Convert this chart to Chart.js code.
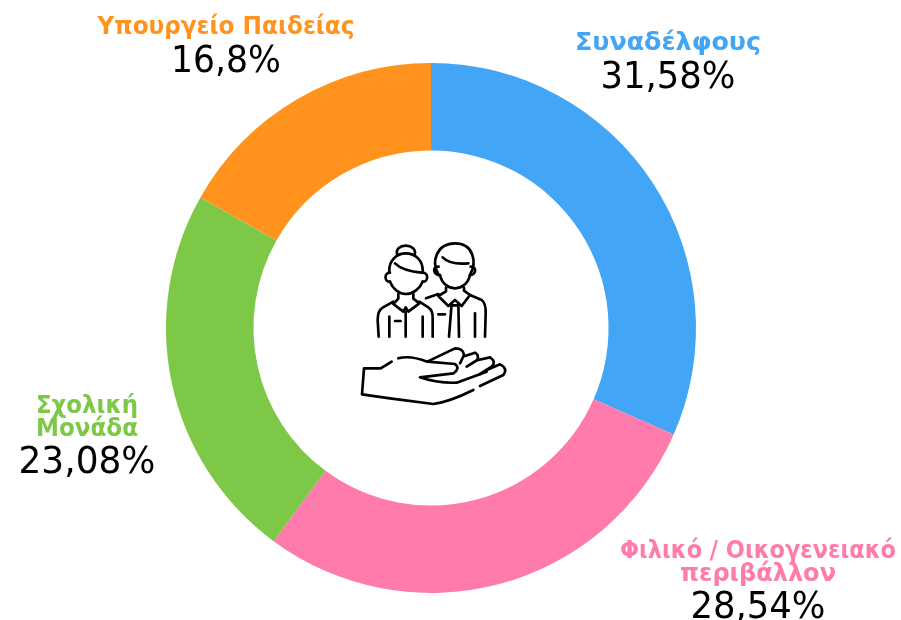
<!DOCTYPE html>
<html lang="el"><head><meta charset="utf-8">
<style>html,body{margin:0;padding:0;background:#fff}canvas{display:block}#w{width:901px;height:620px}</style>
<script src="https://cdn.jsdelivr.net/npm/chart.js@4"></script></head>
<body><div id="w"><canvas id="c" width="901" height="620"></canvas></div>
<script>
const categories = ["Συναδέλφους", "Φιλικό / Οικογενειακό περιβάλλον", "Σχολική Μονάδα", "Υπουργείο Παιδείας"];
const values = [31.58, 28.54, 23.08, 16.8];
const valueLabels = ["31,58%", "28,54%", "23,08%", "16,8%"];
const colors = ["#42A5F5", "#FF7BAC", "#7DC846", "#FF931E"];
const labelLines = [["Συναδέλφους"], ["Φιλικό / Οικογενειακό", "περιβάλλον"], ["Σχολική", "Μονάδα"], ["Υπουργείο Παιδείας"]];
const labelCenters = [[668, 50], [758, 558], [87, 413], [226, 34]];
const valueBaselines = [88, 618, 473, 72];
const labelWidths = [[186], [276, 156], [102, 102], [257]];
const valueWidths = [135, 135, 137, 110];

function fitted(ctx, text, x, y, width, font) {
  ctx.font = font;
  const w = ctx.measureText(text).width;
  ctx.save();
  ctx.translate(x, y);
  ctx.scale(width / w, 1);
  ctx.fillText(text, 0, 0);
  ctx.restore();
}

const texts = {
  id: "texts",
  afterDraw(chart) {
    const ctx = chart.ctx;
    ctx.save();
    ctx.textAlign = "center";
    ctx.textBaseline = "alphabetic";
    labelLines.forEach((lines, i) => {
      const [x, y] = labelCenters[i];
      ctx.fillStyle = colors[i];
      lines.forEach((t, j) => fitted(ctx, t, x, y + j * 23, labelWidths[i][j], 'bold 24px "DejaVu Sans"'));
      ctx.fillStyle = "#000";
      fitted(ctx, valueLabels[i], x, valueBaselines[i], valueWidths[i], '37px "DejaVu Sans"');
    });
    ctx.restore();
  }
};

const icon = {
  id: "icon",
  afterDraw(chart) {
    const c = chart.ctx;
    const p = chart.getDatasetMeta(0).data[0];
    c.save();
    c.translate(p.x - 91, p.y - 108);
    c.scale(1 / 3, 1 / 3);
    c.strokeStyle = "#000"; c.lineWidth = 8; c.lineCap = "round"; c.lineJoin = "round";
    const paths = [
      "M148 155C146 122 170 100 197 100C226 100 250 122 248 155",
      "M150 185C158 205 175 222 197 222C220 222 240 205 248 185",
      "M172 104C160 68 234 68 224 104",
      "M150 158C132 158 132 185 150 185M248 158C266 158 266 185 248 185",
      "M165 130C185 150 215 155 245 158",
      "M175 222L175 236L160 252L190 275L197 262L205 275L238 250L220 236L220 222",
      "M160 245L128 263Q113 272 113 300L116 350M238 245L265 262Q280 272 278 300L278 350",
      "M148 290L148 350M248 290L248 350M197 275L197 350M165 303L182 303",
      "M296 165C272 125 290 70 345 70C400 70 412 125 390 165",
      "M300 165C305 190 325 205 345 205C365 205 385 190 390 165",
      "M296 140C275 140 280 165 300 165M392 140C412 140 408 165 390 165",
      "M308 112Q330 135 385 130",
      "M318 203L318 214L295 228L325 258L345 240L365 258L390 225L372 212L372 203",
      "M295 222L258 235M390 225L425 240Q438 250 437 280L435 350M405 280L405 350",
      "M335 250L327 350M355 250L357 350M332 256L356 256M295 283L315 283",
      "M155 425L122 445L72 445L66 523L150 535L280 552Q330 545 400 510",
      "M420 498L490 465Q505 445 480 433L440 450",
      "M175 415Q210 405 262 425L345 385Q370 385 372 405L360 430",
      "M375 408L405 398Q418 405 412 420L380 440",
      "M415 420L450 412Q470 425 455 440L420 462",
      "M262 425L345 432Q362 445 340 460L240 472Q290 490 350 488L440 455"
    ];
    paths.forEach(d => c.stroke(new Path2D(d)));
    c.restore();
  }
};

new Chart(document.getElementById("c"), {
  type: "doughnut",
  data: { labels: categories, datasets: [{ data: values, backgroundColor: colors, borderWidth: 0 }] },
  options: {
    responsive: false, animation: false, cutout: "67%", rotation: 0,
    layout: { padding: { left: 166, right: 205, top: 63, bottom: 27 } },
    plugins: { legend: { display: false }, tooltip: { enabled: false } }
  },
  plugins: [texts, icon]
});
</script></body></html>
